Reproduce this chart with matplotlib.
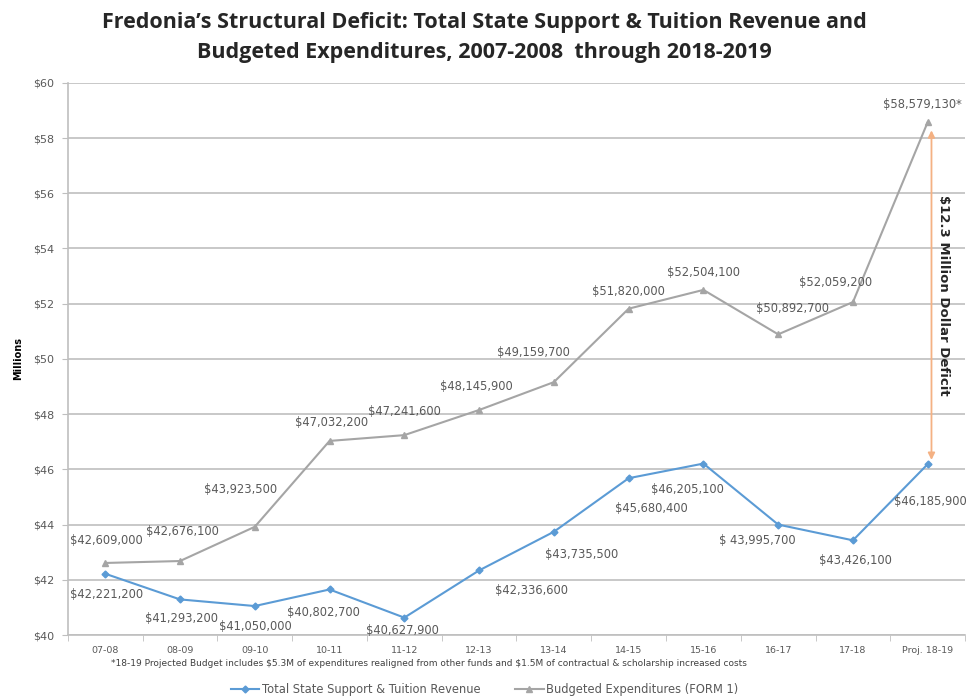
import matplotlib
matplotlib.use("Agg")
import matplotlib.pyplot as plt

years = ["07-08", "08-09", "09-10", "10-11", "11-12", "12-13",
         "13-14", "14-15", "15-16", "16-17", "17-18", "Proj. 18-19"]
# millions, as drawn
revenue = [42.22, 41.29, 41.05, 41.65, 40.63, 42.34,
           43.74, 45.68, 46.21, 44.00, 43.43, 46.19]
expenses = [42.61, 42.68, 43.92, 47.03, 47.24, 48.15,
            49.16, 51.82, 52.50, 50.89, 52.06, 58.58]
revenue_labels = ["$42,221,200", "$41,293,200", "$41,050,000", "$40,802,700",
                  "$40,627,900", "$42,336,600", "$43,735,500", "$45,680,400",
                  "$46,205,100", "$ 43,995,700", "$43,426,100", "$46,185,900"]
expense_labels = ["$42,609,000", "$42,676,100", "$43,923,500", "$47,032,200",
                  "$47,241,600", "$48,145,900", "$49,159,700", "$51,820,000",
                  "$52,504,100", "$50,892,700", "$52,059,200", "$58,579,130*"]
yticks = [40, 42, 44, 46, 48, 50, 52, 54, 56, 58, 60]

# label offsets in pixels
rev_off = [(1, -21), (2, -19), (1, -20), (-6, -23), (-2, -13), (52, -20),
           (28, -23), (23, -30), (-16, -26), (-21, -16), (2, -20), (3, -37)]
exp_off = [(1, 22), (2, 30), (-14, 37), (2, 18), (0, 24), (-3, 24),
           (-20, 30), (0, 17), (0, 17), (14, 26), (-17, 20), (-5, 18)]

blue = "#5B9BD5"
grey = "#A5A5A5"
txt = "#595959"

fig = plt.figure(figsize=(9.69, 6.96), dpi=100)
ax = fig.add_axes([0.070, 0.0876, 0.926, 0.7934])

x = list(range(len(years)))
ax.plot(x, revenue, color=blue, lw=1.5, marker="D", ms=3.5,
        label="Total State Support & Tuition Revenue")
ax.plot(x, expenses, color=grey, lw=1.5, marker="^", ms=4,
        label="Budgeted Expenditures (FORM 1)")

for i in x:
    ax.annotate(revenue_labels[i], (i, revenue[i]), xytext=rev_off[i],
                textcoords="offset pixels", ha="center", va="center",
                fontsize=8.3, color=txt)
    ax.annotate(expense_labels[i], (i, expenses[i]), xytext=exp_off[i],
                textcoords="offset pixels", ha="center", va="center",
                fontsize=8.3, color=txt)

# deficit arrow
ax.annotate("", xy=(11.05, revenue[-1] + 0.05), xytext=(11.05, expenses[-1] - 0.2),
            arrowprops=dict(arrowstyle="<|-|>", color="#F4B183", lw=1.3,
                            mutation_scale=10))
ax.text(11.21, 52.3, "\\$12.3 Million Dollar Deficit", rotation=-90,
        ha="center", va="center", fontsize=9.5, fontweight="bold",
        color="#262626")

ax.set_xlim(-0.5, 11.5)
ax.set_ylim(40, 60)
ax.set_yticks(yticks)
ax.set_yticklabels(["$%d" % v for v in yticks])
ax.set_xticks(x)
ax.set_xticklabels(years)
ax.set_xticks([i + 0.5 for i in range(-1, 12)], minor=True)
ax.tick_params(axis="x", which="major", length=0, labelsize=6.8,
               labelcolor=txt, pad=8)
ax.tick_params(axis="x", which="minor", length=4, color="#BFBFBF")
ax.tick_params(axis="y", length=4, color="#BFBFBF", labelsize=8,
               labelcolor=txt, pad=6)
ax.grid(axis="y", color="#BFBFBF", lw=1.2)
ax.set_axisbelow(True)
for s in ["top", "right"]:
    ax.spines[s].set_visible(False)
ax.spines["left"].set_color("#BFBFBF")
ax.spines["bottom"].set_color("#BFBFBF")
ax.spines["left"].set_linewidth(1.2)
ax.spines["bottom"].set_linewidth(1.2)

ax.set_ylabel("Millions", fontsize=7, fontweight="bold", labelpad=7)

fig.text(0.5, 0.968, "Fredonia\u2019s Structural Deficit: Total State Support & Tuition Revenue and",
         ha="center", va="center", fontsize=15.5, fontweight="bold",
         family="Open Sans", color="#262626")
fig.text(0.5, 0.925, "Budgeted Expenditures, 2007-2008  through 2018-2019",
         ha="center", va="center", fontsize=15.5, fontweight="bold",
         family="Open Sans", color="#262626")

fig.text(0.115, 0.046, "*18-19 Projected Budget includes \\$5.3M of expenditures realigned from other funds "
         "and \\$1.5M of contractual & scholarship increased costs",
         ha="left", va="center", fontsize=6.5, color="#404040")

fig.legend(loc="center", bbox_to_anchor=(0.5, 0.009), ncol=2, frameon=False,
           fontsize=8.3, labelcolor=txt, handlelength=2.5, handletextpad=0.2,
           columnspacing=3.0, borderpad=0)

fig.savefig("out.png", dpi=100)
